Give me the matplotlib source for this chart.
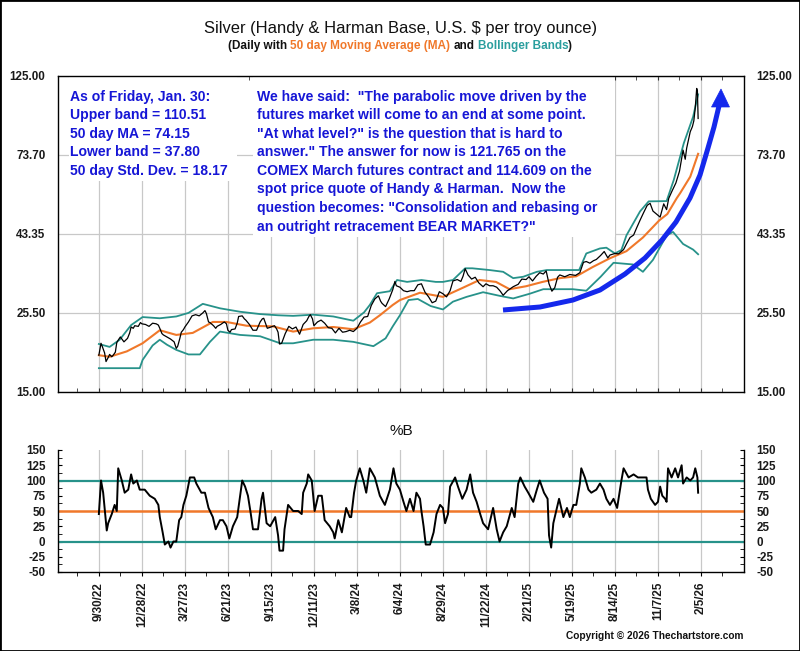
import matplotlib
matplotlib.use('Agg')
import matplotlib.pyplot as plt
from matplotlib import font_manager as fm
from matplotlib.patches import Rectangle, Polygon
from matplotlib.lines import Line2D
from matplotlib.ticker import FixedLocator, NullLocator, FixedFormatter

# ---------------- data (x = trading-day index, 0 = 9/30/22) ----------------
tick_days = [0, 60, 120, 180, 240, 300, 360, 420, 480, 540, 600, 660, 720, 780, 840]
tick_labels = ['9/30/22', '12/28/22', '3/27/23', '6/21/23', '9/15/23', '12/11/23', '3/8/24',
               '6/4/24', '8/29/24', '11/22/24', '2/21/25', '5/19/25', '8/14/25', '11/7/25', '2/5/26']
minor_days = [-30, 30, 90, 150, 210, 270, 330, 390, 450, 510, 570, 630, 690, 750, 810, 870]

price_ticks = [15.0, 25.5, 43.35, 73.7, 125.0]
price_tick_labels = ['15.00', '25.50', '43.35', '73.70', '125.00']

price_days = [0, 3, 5, 8, 10, 13, 15, 18, 20, 23, 25, 28, 30, 35, 40, 43, 45, 48, 50, 55,
              58, 60, 65, 70, 75, 80, 83, 85, 88, 90, 95, 100, 105, 108, 110, 113, 115, 118, 120, 125,
              130, 135, 140, 145, 148, 150, 153, 155, 160, 163, 165, 170, 175, 178, 180, 183, 185, 190, 193, 195,
              200, 203, 205, 210, 215, 220, 225, 228, 230, 235, 240, 245, 248, 250, 252, 255, 260, 265, 270, 275,
              280, 285, 290, 293, 295, 298, 300, 305, 310, 315, 320, 325, 330, 335, 340, 345, 350, 355, 360, 365,
              370, 375, 380, 385, 390, 393, 395, 400, 405, 410, 413, 415, 420, 425, 430, 435, 440, 445, 450, 455,
              460, 465, 470, 475, 480, 485, 490, 494, 500, 505, 508, 511, 515, 520, 525, 530, 536, 540, 545, 550,
              555, 560, 564, 570, 578, 585, 590, 596, 600, 605, 610, 615, 620, 624, 628, 632, 636, 640, 643, 650,
              657, 665, 671, 676, 680, 685, 690, 694, 700, 705, 710, 713, 720, 725, 732, 736, 741, 746, 750, 755,
              760, 765, 769, 773, 778, 783, 788, 792, 795, 800, 805, 810, 815, 818, 820, 825, 828, 830, 832, 834,
              835, 836]
price_values = [19.2, 20.8, 20.3, 19.5, 18.4, 18.9, 19.3, 19.0, 19.2, 19.6, 20.9, 21.4, 21.7, 21.0, 21.5, 22.3, 23.2, 23.0, 23.4, 23.3,
                23.9, 23.7, 23.6, 23.3, 23.8, 23.7, 23.5, 23.0, 22.2, 22.0, 21.7, 21.4, 21.0, 20.1, 20.4, 21.5, 22.4, 22.8, 23.2, 24.0,
                25.0, 25.2, 25.0, 25.5, 25.9, 25.4, 24.0, 23.9, 23.4, 23.0, 23.3, 23.6, 24.0, 23.7, 22.7, 22.4, 22.8, 22.9, 23.8, 24.9,
                25.0, 24.5, 24.3, 23.6, 22.7, 22.7, 24.0, 24.5, 24.6, 23.0, 23.2, 23.4, 22.9, 22.4, 20.7, 20.8, 22.2, 23.3, 22.9, 23.2,
                22.1, 23.6, 24.2, 24.9, 25.2, 24.5, 23.4, 24.0, 24.3, 23.8, 23.1, 23.0, 22.3, 23.0, 22.4, 22.5, 22.7, 22.5, 23.0, 24.0,
                24.8, 24.9, 26.8, 28.0, 28.6, 27.6, 27.2, 26.6, 28.0, 29.8, 31.5, 30.6, 30.3, 29.6, 29.4, 29.6, 29.6, 30.8, 31.0, 29.3,
                28.4, 27.3, 27.6, 29.4, 29.0, 28.4, 29.6, 31.6, 31.9, 31.5, 32.6, 34.3, 32.9, 32.0, 32.4, 31.2, 30.4, 31.0, 30.6, 30.6,
                30.3, 29.5, 28.7, 29.6, 30.4, 30.9, 32.0, 31.9, 32.5, 31.6, 32.6, 33.4, 33.1, 33.8, 31.0, 29.5, 30.2, 32.4, 32.9, 32.5,
                33.0, 32.8, 33.4, 35.8, 36.0, 35.6, 36.2, 36.5, 37.5, 38.5, 36.9, 37.6, 38.0, 37.9, 39.0, 40.5, 42.3, 43.0, 45.0, 47.5,
                50.0, 52.5, 53.2, 50.5, 49.5, 48.5, 53.0, 51.0, 55.0, 58.0, 61.0, 66.0, 76.0, 71.5, 77.0, 86.0, 89.0, 92.5, 101.0, 115.0,
                113.0, 94.0]

ma_days = [0, 15, 39, 61, 85, 108, 131, 159, 178, 206, 243, 271, 299, 327, 355, 378, 392, 410, 420, 448,
           480, 508, 531, 554, 573, 596, 619, 643, 666, 689, 713, 736, 759, 782, 793, 806, 811, 825, 836]
ma_values = [19.2, 19.0, 19.7, 20.8, 22.7, 22.0, 22.3, 24.0, 24.0, 23.4, 23.3, 22.5, 23.0, 23.2, 22.85, 23.9, 25.1, 26.9, 27.8, 29.2,
             28.4, 30.2, 31.8, 31.4, 29.9, 30.5, 31.4, 32.2, 32.6, 34.7, 36.8, 38.6, 42.3, 47.5, 49.5, 55.0, 57.0, 63.6, 74.15]

upper_days = [0, 15, 29, 45, 61, 85, 108, 125, 145, 169, 197, 225, 250, 271, 299, 327, 355, 370, 378, 388,
              406, 416, 430, 450, 470, 480, 494, 511, 521, 545, 564, 578, 592, 611, 625, 650, 670, 680, 699, 708,
              720, 729, 736, 755, 767, 792, 802, 816, 829, 836]
upper_values = [20.7, 20.3, 21.3, 23.5, 24.8, 24.6, 24.9, 25.5, 27.1, 26.3, 25.7, 25.3, 25.1, 25.0, 25.2, 24.9, 24.2, 25.6, 26.9, 29.1,
                29.5, 31.8, 31.4, 31.8, 31.4, 31.4, 31.8, 34.4, 34.4, 34.0, 33.6, 32.2, 32.5, 33.6, 34.0, 34.0, 34.0, 38.0, 39.3, 39.5,
                38.0, 38.9, 42.9, 50.4, 53.9, 54.0, 62.2, 79.6, 95.1, 110.51]

lower_days = [0, 57, 61, 75, 85, 95, 108, 125, 141, 155, 169, 197, 225, 253, 271, 299, 327, 355, 383, 400,
              410, 420, 432, 445, 463, 480, 494, 513, 536, 559, 578, 601, 620, 634, 661, 680, 700, 718, 745, 759,
              773, 792, 801, 815, 829, 836]
lower_values = [17.6, 17.6, 18.6, 20.5, 21.3, 20.6, 19.9, 19.3, 19.3, 21.0, 22.5, 22.0, 21.8, 20.8, 20.8, 21.3, 21.3, 21.0, 20.4, 21.5,
                23.3, 25.1, 27.8, 28.0, 26.7, 26.1, 27.5, 28.4, 29.3, 28.6, 28.1, 29.0, 29.9, 29.9, 29.9, 29.6, 32.5, 35.7, 35.3, 33.6,
                36.4, 42.9, 43.9, 40.5, 39.0, 37.80]

pb_days = [0, 3, 6, 8, 11, 13, 18, 22, 25, 27, 32, 36, 41, 45, 48, 53, 57, 64, 71, 78,
           83, 85, 89, 92, 97, 100, 104, 108, 112, 115, 118, 122, 127, 133, 136, 143, 148, 153, 159, 163,
           169, 173, 178, 182, 187, 193, 197, 200, 204, 208, 212, 215, 222, 227, 229, 234, 239, 246, 250, 252,
           257, 259, 264, 271, 278, 283, 285, 290, 292, 297, 301, 306, 311, 315, 322, 327, 329, 334, 339, 345,
           350, 352, 356, 359, 364, 369, 373, 378, 385, 392, 399, 406, 411, 415, 420, 425, 429, 434, 439, 443,
           448, 450, 453, 456, 462, 467, 471, 476, 480, 483, 487, 490, 497, 501, 507, 513, 518, 522, 527, 532,
           536, 543, 550, 555, 559, 564, 569, 576, 580, 585, 588, 594, 599, 606, 611, 615, 621, 626, 628, 631,
           634, 639, 642, 648, 653, 657, 662, 666, 671, 673, 678, 683, 687, 694, 699, 704, 708, 713, 718, 723,
           727, 729, 732, 739, 746, 752, 759, 764, 766, 770, 776, 780, 783, 786, 790, 792, 794, 799, 804, 808,
           813, 815, 820, 825, 829, 832, 835, 836]
pb_values = [45, 100, 80, 55, 18, 30, 45, 60, 50, 120, 100, 80, 85, 110, 95, 100, 85, 85, 75, 70,
             60, 40, 15, -5, 0, -10, 0, 0, 35, 40, 60, 75, 105, 105, 95, 80, 80, 55, 40, 20,
             35, 35, 25, 5, 25, 40, 75, 100, 90, 75, 45, 20, 20, 70, 80, 30, 25, 40, 10, -15,
             -15, 20, 60, 50, 50, 45, 80, 95, 110, 100, 50, 75, 75, 35, 25, 15, 5, 35, 15, 55,
             40, 40, 80, 100, 120, 100, 80, 120, 105, 75, 60, 85, 120, 95, 85, 65, 50, 70, 50, 80,
             70, 50, 25, -5, -5, 15, 45, 60, 55, 30, 45, 90, 105, 90, 70, 85, 110, 80, 65, 45,
             30, 20, 55, 20, 0, 15, 25, 55, 40, 95, 105, 90, 80, 65, 85, 100, 80, 70, 10, -10,
             30, 55, 70, 40, 55, 40, 60, 60, 95, 120, 105, 85, 80, 85, 95, 85, 70, 60, 70, 55,
             85, 100, 120, 105, 110, 105, 105, 105, 85, 70, 60, 65, 90, 75, 70, 65, 120, 105, 120, 105,
             125, 95, 105, 100, 105, 120, 105, 80]

pb_levels = [0, 50, 100]
pb_ticks = [-50, -25, 0, 25, 50, 75, 100, 125, 150]

assert len(price_days) == len(price_values)
assert len(ma_days) == len(ma_values)
assert len(upper_days) == len(upper_values)
assert len(lower_days) == len(lower_values)
assert len(pb_days) == len(pb_values)

left_note = ['As of Friday, Jan. 30:', 'Upper band = 110.51', '50 day MA = 74.15',
             'Lower band = 37.80', '50 day Std. Dev. = 18.17']
right_note = ['We have said:  "The parabolic move driven by the',
              'futures market will come to an end at some point.',
              '"At what level?" is the question that is hard to',
              'answer." The answer for now is 121.765 on the',
              'COMEX March futures contract and 114.609 on the',
              'spot price quote of Handy & Harman.  Now the',
              'question becomes: "Consolidation and rebasing or',
              'an outright retracement BEAR MARKET?"']

# ---------------- style ----------------
def has_font(name):
    try:
        fm.findfont(fm.FontProperties(family=name), fallback_to_default=False)
        return True
    except Exception:
        return False

BASE = 'Liberation Sans' if has_font('Liberation Sans') else 'DejaVu Sans'
plt.rcParams['font.family'] = [BASE, 'DejaVu Sans']
plt.rcParams['font.weight'] = 'bold'
plt.rcParams['axes.unicode_minus'] = False

TEAL = '#27928a'
ORANGE = '#f0782a'
BLUE_TXT = '#1616d6'
BLUE_ARW = '#1428ec'
GRID = '#c8c8c8'

W, H = 800, 651
fig = plt.figure(figsize=(W / 100, H / 100), dpi=100)
fig.patch.set_facecolor('white')


def fx(x):
    return x / W


def fy(y):
    return 1 - y / H


L, R = 58, 744
ax = fig.add_axes([fx(L), fy(392), (R - L) / W, (392 - 76) / H])
axb = fig.add_axes([fx(L), fy(572), (R - L) / W, (572 - 450) / H])

# ---------------- price panel ----------------
ax.set_yscale('log')
ax.set_ylim(15, 125)
ax.set_xlim(-57, 900)
ax.yaxis.set_major_locator(FixedLocator(price_ticks))
ax.yaxis.set_major_formatter(FixedFormatter(price_tick_labels))
ax.yaxis.set_minor_locator(NullLocator())
ax.set_xticks(tick_days)
ax.set_xticks(minor_days, minor=True)
ax.tick_params(axis='x', which='both', direction='in', length=3, top=True, bottom=True,
               labelbottom=False, color='#333333')
ax.tick_params(axis='y', which='both', length=0, left=True, right=True, labelleft=True,
               labelright=True, labelsize=8.4, pad=9, labelcolor='#1a1a1a')
ax.grid(True, which='major', color=GRID, lw=0.9)
ax.set_axisbelow(True)
for s in ax.spines.values():
    s.set_color('black')
    s.set_linewidth(1.0)

ax.plot(lower_days, lower_values, color=TEAL, lw=1.3, zorder=3)
ax.plot(upper_days, upper_values, color=TEAL, lw=1.3, zorder=3)
ax.plot(ma_days, ma_values, color=ORANGE, lw=1.5, zorder=3)
ax.plot(price_days, price_values, color='black', lw=0.9, zorder=4)

# white note backgrounds
for (x0, y0, x1, y1) in [(69, 77, 237, 181), (253, 77, 615, 237)]:
    ax.add_patch(Rectangle((fx(x0), fy(y1)), (x1 - x0) / W, (y1 - y0) / H,
                           transform=fig.transFigure, facecolor='white', edgecolor='none',
                           zorder=1.5, clip_on=False))

# blue arrow (annotation)
arrow_px = [(503, 310), (540, 307), (573, 300), (600, 290), (625, 274), (645, 258), (662, 240),
            (676, 222), (690, 198), (700, 175), (708, 148), (714, 127), (719, 106)]
ax.add_line(Line2D([fx(p[0]) for p in arrow_px], [fy(p[1]) for p in arrow_px],
                   transform=fig.transFigure, color=BLUE_ARW, lw=3.6, solid_capstyle='butt',
                   solid_joinstyle='round', zorder=5, clip_on=False))
ax.add_patch(Polygon([(fx(721), fy(89)), (fx(711.5), fy(107)), (fx(729.5), fy(107))],
                     closed=True, transform=fig.transFigure, facecolor=BLUE_ARW,
                     edgecolor=BLUE_ARW, lw=0.5, zorder=5, clip_on=False))

# ---------------- %B panel ----------------
axb.set_xlim(-57, 900)
axb.set_ylim(-50, 150)
axb.set_yticks(pb_ticks)
axb.set_yticks([v + 12.5 for v in pb_ticks[:-1]], minor=True)
axb.tick_params(axis='y', which='both', direction='in', left=True, right=True, labelleft=True,
                labelright=True, length=3, labelsize=8.4, pad=9, labelcolor='#1a1a1a')
axb.set_xticks(tick_days)
axb.set_xticks(minor_days, minor=True)
axb.set_xticklabels(tick_labels, rotation=90, fontsize=8.4, color='#1a1a1a')
axb.tick_params(axis='x', which='both', direction='out', length=3, top=False, bottom=True, pad=4)
axb.grid(True, axis='x', which='major', color=GRID, lw=0.9)
axb.set_axisbelow(True)
axb.spines['top'].set_visible(False)
for s in ['left', 'right', 'bottom']:
    axb.spines[s].set_color('black')
    axb.spines[s].set_linewidth(1.0)

axb.axhline(pb_levels[0], color=TEAL, lw=1.6, zorder=2)
axb.axhline(pb_levels[2], color=TEAL, lw=1.6, zorder=2)
axb.axhline(pb_levels[1], color=ORANGE, lw=1.8, zorder=2)
axb.plot(pb_days, pb_values, color='black', lw=1.4, zorder=3)

# ---------------- texts ----------------
renderer = fig.canvas.get_renderer()


def width_of(t):
    return t.get_window_extent(renderer=renderer).width


def fit(t, target):
    t.set_fontsize(t.get_fontsize() * target / width_of(t))
    return t.get_fontsize()


title = fig.text(fx(400), fy(29), 'Silver (Handy & Harman Base, U.S. $ per troy ounce)',
                 ha='center', va='center', fontsize=12, fontweight='normal', color='#111111')
fit(title, 391)

# multi-coloured subtitle
pieces = [('(Daily with', '#111111'), ('50 day Moving Average (MA)', ORANGE), ('and', '#111111'),
          ('Bollinger Bands', '#2a9e9e'), (')', '#111111')]
gaps = [True, True, True, False]
sub_fs = 8.0
probe = fig.text(0, 0, '(Daily with 50 day Moving Average (MA) and Bollinger Bands)', fontsize=sub_fs,
                 fontweight='bold')
sub_fs = fit(probe, 344)
probe.set_text('a a')
w_aa = width_of(probe)
probe.set_text('aa')
space_w = w_aa - width_of(probe)
probe.remove()
objs = []
for txt, col in pieces:
    objs.append(fig.text(0, fy(46), txt, ha='left', va='center', fontsize=sub_fs,
                         fontweight='bold', color=col))
widths = [width_of(o) for o in objs]
total = sum(widths) + space_w * sum(gaps)
x = 400 - total / 2
for i, o in enumerate(objs):
    o.set_x(fx(x))
    x += widths[i] + (space_w if i < len(gaps) and gaps[i] else 0)

pb_title = fig.text(fx(401), fy(431), '%B', ha='center', va='center', fontsize=11,
                    fontweight='normal', color='#111111')

cp = fig.text(fx(743), fy(636), 'Copyright \u00a9 2026 Thechartstore.com', ha='right', va='center',
              fontsize=7, fontweight='bold', color='#111111')
fit(cp, 178)

# blue notes
t0 = fig.text(fx(70.5), fy(100.5), left_note[0], ha='left', va='baseline', fontsize=10,
              fontweight='bold', color=BLUE_TXT, zorder=6)
lfs = fit(t0, 140)
for i, line in enumerate(left_note[1:], start=1):
    fig.text(fx(70.5), fy(100.5 + i * 18.6), line, ha='left', va='baseline', fontsize=lfs,
             fontweight='bold', color=BLUE_TXT, zorder=6)

r0 = fig.text(fx(256.7), fy(100.5), right_note[0], ha='left', va='baseline', fontsize=10,
              fontweight='bold', color=BLUE_TXT, zorder=6)
rfs = fit(r0, 331)
for i, line in enumerate(right_note[1:], start=1):
    fig.text(fx(256.7), fy(100.5 + i * 18.6), line, ha='left', va='baseline', fontsize=rfs,
             fontweight='bold', color=BLUE_TXT, zorder=6)

# outer frame
fig.add_artist(Rectangle((0, 0), 1, 1, transform=fig.transFigure, fill=False,
                         edgecolor='black', lw=2.0))

fig.savefig('out.png', dpi=100, facecolor='white')
